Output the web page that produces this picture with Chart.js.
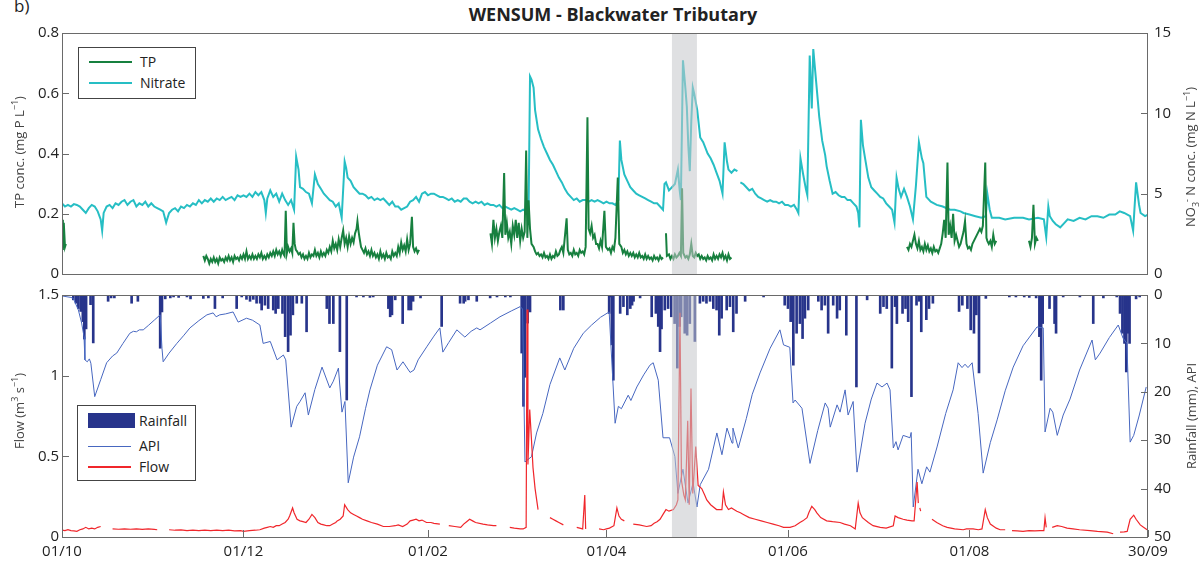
<!DOCTYPE html>
<html>
<head>
<meta charset="utf-8">
<title>WENSUM - Blackwater Tributary</title>
<script src="https://cdn.jsdelivr.net/npm/chart.js@4.4.1/dist/chart.umd.min.js"></script>
<style>
  html, body { margin: 0; padding: 0; background: #fff; }
  body { width: 1203px; height: 566px; position: relative; overflow: hidden; font-family: 'Open Sans', sans-serif; color: #222; }
  canvas { position: absolute; left: 0; }
  #top-chart { top: 0; }
  #bottom-chart { top: 280px; }
  .panel-tag { position: absolute; left: 14px; top: -6px; font-size: 17px; }
  .title { position: absolute; left: 0; width: 1226px; top: 2px; text-align: center; font-weight: 700; font-size: 18px; }
  .ytitle { position: absolute; font-size: 13px; color: #444; white-space: nowrap; transform: translate(-50%, -50%) rotate(-90deg); }
  .ytitle sup, .ytitle sub { font-size: 9px; }
  .legend { position: absolute; border: 1px solid #444; background: #fff; font-size: 14px; }
  .legend .sw { position: absolute; left: 10px; }
  .legend .lbl { position: absolute; left: 61px; line-height: 20px; transform: translateY(-50%); }
</style>
</head>
<body>
<div class="panel-tag">b)</div>
<div class="title">WENSUM - Blackwater Tributary</div>
<canvas id="top-chart" width="1203" height="290"></canvas>
<canvas id="bottom-chart" width="1203" height="286"></canvas>
<div class="ytitle" style="left:18px;top:152px">TP conc. (mg P L<sup>−1</sup>)</div>
<div class="ytitle" style="left:1191px;top:157px">NO<sub>3</sub><sup>-</sup> N conc. (mg N L<sup>−1</sup>)</div>
<div class="ytitle" style="left:18px;top:411px">Flow (m<sup>3</sup> s<sup>−1</sup>)</div>
<div class="ytitle" style="left:1191px;top:416px">Rainfall (mm), API</div>
<div class="legend" id="legend-top" style="left:78px;top:47px;width:116px;height:50px"></div>
<div class="legend" id="legend-bottom" style="left:77px;top:405px;width:117px;height:74px"></div>
<script>
'use strict';

// x values are days since 01/10 (leap year, so 30/09 is day 365)
const tickDays = [0, 61, 123, 183, 244, 305, 365];
const tickLabels = ['01/10', '01/12', '01/02', '01/04', '01/06', '01/08', '30/09'];
const stormWindow = [205, 213.4];

// TP (mg P/L), gaps marked with null
const tpSeries = [
  [0,0.18],[0.3,0.08],[0.6,0.17],[1,0.09],[1.3,0.1],[1.5,null],
  [47.5,0.06],[48,0.045],[48.5,0.06],[49,0.05],[49.5,0.035],[50,0.05],[50.5,0.04],[51,0.055],[51.5,0.04],[52,0.05],[52.5,0.035],
  [53,0.055],[53.5,0.045],[54,0.05],[54.5,0.04],[55,0.055],[55.5,0.045],[56,0.06],[56.5,0.045],[57,0.055],[57.5,0.04],[58,0.06],
  [58.5,0.05],[59,0.055],[59.5,0.045],[60,0.06],[60.5,0.05],[61,0.065],[61.5,0.05],[62,0.075],[62.5,0.05],[63,0.06],[63.5,0.05],
  [64,0.065],[64.5,0.05],[65,0.06],[65.5,0.05],[66,0.065],[66.5,0.055],[67,0.07],[67.5,0.05],[68,0.06],[68.5,0.05],[69,0.065],
  [69.5,0.055],[70,0.07],[70.5,0.06],[71,0.075],[71.5,0.06],[72,0.08],[72.5,0.065],[73,0.075],[73.5,0.06],[74,0.08],[74.5,0.065],
  [74.8,0.06],[75.2,0.21],[75.6,0.07],[76,0.09],[76.5,0.075],[77,0.085],[77.4,0.07],[77.8,0.17],[78.2,0.1],[78.6,0.08],[79,0.075],
  [79.5,0.065],[80,0.07],[80.5,0.055],[81,0.065],[81.5,0.05],[82,0.06],[82.5,0.05],[83,0.07],[83.5,0.055],[84,0.065],[84.5,0.06],
  [85,0.08],[85.5,0.06],[86,0.07],[86.5,0.055],[87,0.075],[87.5,0.06],[88,0.07],[88.5,0.06],[89,0.08],[89.5,0.07],[90,0.09],
  [90.5,0.075],[91,0.11],[91.5,0.085],[92,0.1],[92.5,0.08],[93,0.115],[93.5,0.09],[94,0.12],[94.5,0.145],[95,0.1],[95.5,0.12],
  [96,0.09],[96.5,0.125],[97,0.1],[97.5,0.12],[98,0.105],[98.5,0.135],[99,0.15],[99.3,0.175],[99.7,0.14],[100,0.12],[100.5,0.09],
  [101,0.08],[101.5,0.07],[102,0.085],[102.5,0.065],[103,0.075],[103.5,0.06],[104,0.08],[104.5,0.06],[105,0.07],[105.5,0.055],
  [106,0.065],[106.5,0.05],[107,0.075],[107.5,0.055],[108,0.065],[108.5,0.05],[109,0.07],[109.5,0.055],[110,0.06],[110.5,0.05],
  [111,0.075],[111.5,0.06],[112,0.07],[112.5,0.06],[113,0.09],[113.5,0.07],[114,0.105],[114.5,0.08],[115,0.095],[115.5,0.075],
  [116,0.115],[116.5,0.08],[117,0.1],[117.6,0.19],[118,0.09],[118.5,0.075],[119,0.085],[119.5,0.07],[120,0.08],[120.3,null],
  [144,0.135],[144.5,0.1],[145,0.18],[145.5,0.12],[146,0.15],[146.5,0.11],[147,0.14],[147.5,0.16],[148,0.12],[148.6,0.335],[149,0.13],
  [149.5,0.17],[150,0.12],[150.5,0.14],[151,0.1],[151.5,0.16],[152,0.13],[152.5,0.18],[153,0.12],[153.5,0.17],[154,0.11],[154.5,0.15],
  [155,0.12],[155.5,0.14],[156,0.41],[156.4,0.12],[156.8,0.245],[157.3,0.15],[157.8,0.1],[158.5,0.09],[159,0.075],[159.5,0.065],
  [160,0.07],[160.5,0.06],[161,0.065],[161.5,0.055],[162,0.07],[162.5,0.055],[163,0.06],[163.5,0.05],[164,0.065],[164.5,0.05],
  [165,0.06],[165.5,0.055],[166,0.075],[166.5,0.06],[167,0.065],[167.5,0.08],[168,0.09],[168.5,0.07],[169.6,0.185],[170,0.08],
  [170.5,0.065],[171,0.07],[171.5,0.06],[172,0.08],[172.5,0.065],[173,0.07],[173.5,0.06],[174,0.08],[174.5,0.07],[175,0.075],
  [175.5,0.065],[176,0.09],[176.6,0.52],[177,0.15],[177.5,0.135],[178,0.16],[178.5,0.12],[179,0.13],[179.5,0.1],[180,0.1],
  [180.5,0.085],[181,0.11],[181.5,0.09],[182.3,0.21],[182.8,0.09],[183.5,0.08],[184,0.085],[184.5,0.07],[185,0.09],[185.5,0.08],
  [186,0.12],[186.8,0.32],[187.3,0.1],[188,0.09],[188.5,0.07],[189,0.08],[189.5,0.065],[190,0.075],[190.5,0.06],[191,0.07],
  [191.5,0.06],[192,0.07],[192.5,0.055],[193,0.065],[193.5,0.055],[194,0.07],[194.5,0.055],[195,0.06],[195.5,0.05],[196,0.065],
  [196.5,0.05],[197,0.06],[197.5,0.05],[198,0.055],[198.5,0.045],[199,0.06],[199.5,0.05],[200,0.055],[200.5,0.045],[201,0.06],
  [201.5,0.05],[202,0.055],[202.5,null],
  [203,0.135],[203.3,0.06],[204,0.065],[204.5,0.05],[205,0.06],[205.5,0.05],[206,0.065],[206.5,0.055],[207,0.06],[207.5,0.07],
  [208,0.06],[208.4,0.285],[208.8,0.07],[209.5,0.055],[210,0.06],[210.5,0.05],[211,0.065],[211.5,0.1],[212,0.06],[212.5,0.055],
  [213,0.07],[213.5,0.06],[214,0.065],[214.5,0.05],[215,0.06],[215.5,0.05],[216,0.055],[216.5,0.045],[217,0.06],[217.5,0.05],
  [218,0.055],[218.5,0.045],[219,0.065],[219.5,0.05],[220,0.06],[220.5,0.05],[221,0.065],[221.5,0.055],[222,0.07],[222.5,0.05],
  [223,0.06],[223.5,0.045],[224,0.065],[224.5,0.05],[225,0.055],[225.5,null],
  [284,0.09],[284.5,0.08],[285,0.1],[285.5,0.09],[286,0.11],[286.5,0.13],[287,0.1],[287.5,0.085],[288,0.11],[288.5,0.08],[289,0.09],
  [289.5,0.075],[290,0.1],[290.5,0.08],[291,0.095],[291.5,0.075],[292,0.085],[292.5,0.07],[293,0.09],[293.5,0.075],[294,0.08],
  [294.5,0.07],[295,0.085],[295.5,0.1],[296,0.135],[296.5,0.18],[297,0.12],[297.6,0.37],[298,0.13],[298.5,0.16],[299,0.12],
  [299.5,0.2],[300,0.11],[300.5,0.13],[301,0.11],[301.5,0.09],[302,0.1],[302.5,0.12],[303,0.14],[303.5,0.175],[304,0.1],
  [304.5,0.085],[305,0.09],[305.5,0.08],[306,0.1],[306.5,0.11],[307,0.12],[307.5,0.13],[308,0.14],[308.5,0.15],[309,0.14],
  [309.5,0.16],[310.3,0.37],[310.7,0.12],[311,0.11],[311.5,0.1],[312,0.11],[312.5,0.09],[313,0.13],[313.5,0.1],[314,0.11],[314.5,null],
  [325,0.11],[325.5,0.09],[326,0.12],[326.5,0.23],[327,0.1],[327.5,0.12],[328,0.11]
];

// nitrate NO3-N (mg N/L)
const nitrateSeries = [
  [0,4.4],[1,4.2],[2,4.3],[3,4.2],[4,4.35],[5,4.3],[6,4.2],[7,4.0],[8,3.8],[9,4.1],[10,4.3],[11,4.2],[12,3.9],[13,3.4],[13.5,2.7],
  [14,3.8],[15,4.2],[16,4.3],[17,4.1],[18,4.4],[19,4.3],[20,4.5],[21,4.6],[22,4.3],[23,4.5],[24,4.6],[25,4.2],[26,4.4],[27,4.3],
  [28,4.5],[29,4.2],[30,4.4],[31,4.2],[32,4.1],[33,4.0],[34,3.9],[35,3.2],[35.5,3.5],[36,3.8],[37,4.0],[38,4.1],[39,3.9],[40,4.2],
  [41,4.1],[42,4.3],[43,4.2],[44,4.4],[45,4.3],[46,4.6],[47,4.4],[48,4.6],[49,4.5],[50,4.7],[51,4.5],[52,4.7],[53,4.6],[54,4.8],
  [55,4.6],[56,4.7],[57,4.8],[58,4.6],[59,4.9],[60,4.8],[61,4.9],[62,4.8],[63,5.0],[64,4.8],[65,5.1],[66,4.9],[67,5.1],[68,4.6],
  [68.5,3.8],[69,4.7],[70,5.2],[71,4.8],[72,5.0],[73,4.5],[74,5.0],[75,4.6],[76,4.3],[77,4.6],[78,4.0],[78.7,7.3],[79.5,6.5],[80,5.4],
  [81,5.3],[82,5.1],[83,5.0],[84,4.4],[85,6.2],[86,5.6],[87,5.3],[88,5.0],[89,4.8],[90,4.6],[91,4.5],[92,4.2],[93,4.4],[94,3.5],
  [95,7.0],[95.5,6.6],[96,6.0],[97,5.8],[98,5.4],[99,5.2],[100,5.0],[101,5.0],[102,4.9],[103,4.7],[104,4.8],[105,4.6],[106,4.7],
  [107,4.6],[108,4.7],[109,4.5],[110,4.3],[111,4.5],[112,4.2],[113,4.2],[114,4.0],[115,4.1],[116,4.2],[117,4.5],[118,4.6],[119,4.8],
  [120,4.5],[121,5.0],[122,5.1],[123,4.9],[124,5.0],[125,5.0],[126,4.9],[127,4.8],[128,4.8],[129,4.7],[130,4.6],[131,4.7],[132,4.5],
  [133,4.6],[134,4.5],[135,4.7],[136,4.7],[137,4.5],[138,4.4],[139,4.5],[140,4.4],[141,4.5],[142,4.3],[143,4.4],[144,4.3],[145,4.3],
  [146,4.2],[147,4.3],[148,4.1],[149,4.2],[150,4.1],[151,4.0],[152,4.1],[153,4.0],[154,3.9],[155,4.0],[156,3.9],[156.8,3.6],
  [157.3,12.3],[157.8,12.1],[158.5,11.6],[159,10.2],[160,9.0],[161,8.4],[162,7.9],[163,7.5],[164,7.1],[165,6.8],[166,6.4],[167,6.0],
  [168,5.7],[169,5.3],[170,5.0],[171,4.8],[172,4.6],[173,4.7],[174,4.5],[175,4.6],[176,4.6],[177,4.5],[178,4.6],[179,4.5],[180,4.6],
  [181,4.5],[182,4.4],[183,4.5],[184,4.4],[185,4.4],[186,4.3],[187,4.6],[187.5,8.3],[188,7.1],[189,6.2],[190,5.8],[191,5.4],[192,5.2],
  [193,5.0],[194,4.9],[195,4.8],[196,4.7],[197,4.6],[198,4.5],[199,4.4],[200,4.4],[201,4.2],[202,4.0],[202.5,5.6],[203,5.7],[204,5.2],
  [205,5.4],[206,5.6],[207,6.5],[207.6,5.2],[208,4.6],[208.7,13.3],[209.5,11.6],[210,10.4],[210.5,8.0],[211,6.4],[211.5,9.5],[212,11.6],
  [212.5,11.2],[213.5,10.2],[214.5,8.5],[215.5,8.2],[217,7.5],[218,7.2],[219,6.8],[220,6.3],[221,5.8],[222,5.0],[222.7,8.2],[223.5,7.0],
  [224,6.5],[225,6.3],[226,6.5],[227,6.4],[227.4,null],[228,5.7],[229,5.6],[230,5.4],[231,5.2],[232,5.3],[233,5.0],[234,4.8],[235,4.7],
  [236,4.6],[237,4.5],[238,4.6],[239,4.5],[240,4.5],[241,4.4],[242,4.5],[243,4.3],[244,4.3],[245,4.2],[246,4.3],[247,4.0],[247.5,3.8],
  [248.2,7.2],[249,6.3],[250,5.3],[250.5,4.9],[251.3,13.6],[252,10.3],[252.5,14.0],[253.5,11.9],[254.5,9.8],[255.5,8.3],[256.5,7.4],
  [257,6.7],[258,5.8],[259,5.0],[260,5.1],[261,4.9],[262,4.8],[263,4.8],[264,4.6],[265,4.6],[266,4.4],[267,4.2],[267.6,3.8],[268,2.9],
  [268.5,9.6],[269.2,8.0],[270,7.1],[271,6.0],[272,5.4],[273,5.2],[274,5.0],[275,4.8],[276,4.7],[277,4.4],[278,4.2],[279,4.0],
  [279.8,3.2],[280.5,6.0],[281.2,5.3],[282,4.8],[283,5.3],[284,4.8],[285,4.2],[286,3.4],[287,5.5],[288,8.2],[289,7.2],[289.5,6.9],
  [290.5,4.8],[292,4.5],[294,4.3],[296,4.2],[298.5,4.0],[300,4.0],[302,3.9],[303,3.8],[305,3.7],[307,3.6],[309,3.5],[310.5,3.6],
  [311,5.0],[311.8,4.0],[312.5,3.5],[315,3.5],[317,3.4],[320,3.5],[323,3.5],[325,3.4],[328,3.5],[330,3.4],[330.8,2.3],[331.5,4.2],
  [332,3.6],[333,3.3],[334,3.1],[335.5,2.9],[337,3.2],[338,3.4],[340,3.3],[342,3.5],[344,3.4],[346,3.6],[348,3.6],[350,3.5],[352,3.7],
  [354,3.7],[355.5,3.9],[357,3.8],[359,3.6],[360,2.7],[361,5.7],[362,4.3],[362.5,3.8],[364,3.6],[365,3.7]
];

// flow (m3/s), gaps marked with null
const flowSeries = [
  [0,0.043],[1,0.04],[2,0.045],[3,0.04],[4,0.038],[5,0.035],[6,0.045],[7,0.05],[8,0.06],[9,0.05],[10,0.055],[11,0.05],[12,0.06],[13,0.065],[13.5,null],
  [17,0.05],[19,0.048],[21,0.05],[23,0.048],[25,0.05],[27,0.047],[29,0.05],[31,0.047],[32,0.045],[32.5,null],
  [36,0.045],[38,0.042],[40,0.044],[42,0.04],[44,0.042],[46,0.04],[48,0.043],[50,0.04],[52,0.042],[54,0.04],[56,0.043],[58,0.038],
  [60,0.04],[61,0.035],[63,0.04],[65,0.042],[66.5,0.045],[68,0.055],[69,0.06],[70,0.065],[71,0.06],[72,0.07],[73,0.07],[74,0.08],
  [75,0.09],[76,0.11],[76.5,0.13],[77.5,0.18],[78,0.15],[79,0.11],[80,0.1],[81,0.095],[82,0.09],[83,0.11],[84,0.14],[85,0.12],
  [86,0.09],[87,0.08],[88,0.075],[89,0.07],[90,0.07],[91,0.08],[92,0.09],[92.5,0.1],[93.5,0.11],[94.5,0.13],[95,0.2],[96,0.17],
  [97,0.15],[98,0.14],[99,0.13],[100,0.12],[101,0.11],[102.5,0.1],[104,0.09],[106,0.08],[108,0.065],[110,0.065],[112,0.07],[113,0.075],
  [114.5,0.065],[116,0.08],[117,0.1],[118,0.105],[119,0.11],[120,0.1],[121,0.105],[122.5,0.09],[124,0.09],[125,0.085],[127,0.08],[128,null],
  [130,0.07],[132,0.065],[134,0.06],[135,0.08],[136,0.095],[137,0.11],[138,0.1],[139,0.09],[141.5,0.08],[143,0.075],[145,0.07],[146,0.07],[146.5,null],
  [150.5,0.06],[152,0.055],[154,0.05],[155,0.05],[156,0.06],[156.3,1.41],[156.6,0.45],[157.2,0.79],[157.8,0.6],[158.3,0.43],[159,0.3],[160,0.17],[160.3,null],
  [164,0.12],[165,0.11],[166,0.1],[167,0.09],[168.5,0.075],[169,null],
  [173,0.06],[175,0.05],[175.7,0.26],[176,0.05],[176.5,null],
  [180.5,0.05],[182,0.045],[183,0.05],[184,0.055],[185.5,0.07],[186.5,0.18],[187.2,0.13],[188,0.11],[189,0.1],[189.5,null],
  [192,0.08],[194,0.075],[196.5,0.065],[198,0.07],[199,0.085],[200,0.095],[201,0.11],[202,0.14],[203,0.17],[204,0.16],[205.5,0.17],
  [206.5,0.2],[207,0.23],[207.7,1.39],[208.2,0.35],[209,0.26],[209.5,0.23],[210.3,0.72],[210.8,0.2],[211.4,0.92],[212,0.27],[213,0.56],
  [213.8,0.32],[215,0.3],[216,0.26],[216.7,0.23],[218,0.2],[220,0.17],[221.8,0.17],[222.3,0.28],[223,0.2],[224,0.17],[225,0.18],
  [226.8,0.16],[228,0.15],[229,0.14],[231,0.12],[233,0.11],[235,0.1],[237,0.09],[239,0.08],[241,0.07],[242.5,0.06],[244.7,0.06],
  [246.4,0.07],[248,0.09],[249,0.1],[250.4,0.12],[251,0.15],[252,0.19],[253,0.17],[253.7,0.15],[255,0.12],[257,0.1],[259,0.095],
  [261.5,0.09],[263,0.08],[265,0.07],[266.6,0.05],[267.6,0.21],[268.2,0.15],[269,0.12],[271,0.09],[272.6,0.07],[275,0.06],[277,0.055],
  [279.4,0.07],[280,0.13],[281,0.12],[282.7,0.11],[284,0.105],[285.7,0.1],[286.4,0.1],[287.4,0.34],[287.8,0.21],[288,null],
  [288.3,0.18],[288.6,0.16],[288.8,null],
  [292.4,0.11],[294,0.09],[296,0.07],[297.5,0.06],[300,0.05],[302.9,0.045],[304,0.05],[306.2,0.05],[308,0.045],[309.2,0.05],
  [310.3,0.17],[311,0.12],[312,0.08],[314,0.055],[315.3,0.045],[317,0.045],[317.5,null],
  [319.3,0.04],[321,0.038],[323,0.035],[325,0.04],[327,0.038],[328.7,0.04],[330,0.04],[330.4,0.12],[330.8,0.06],[331,null],
  [332.8,0.06],[334.5,0.07],[336,0.065],[337.8,0.055],[339.8,0.05],[342,0.045],[345.5,0.04],[348,0.035],[351.3,0.03],[353.3,0.02],[353.8,null],
  [355.6,0.03],[357,0.032],[358,0.035],[359,0.11],[360.2,0.135],[361,0.11],[362.4,0.075],[363.5,0.06],[364.7,0.045]
];

// antecedent precipitation index (right axis, reversed)
const apiSeries = [
  [0,0.2],[3,0.5],[3.8,0.7],[5.5,3.1],[6.6,5.8],[7.4,8.6],[7.7,13.4],[8.5,13.8],[9.2,13.2],[9.7,14.1],[11,21],[13,17.5],[15,14],
  [17,12.6],[18.4,12],[20.5,10],[22.8,7.9],[24,7.5],[25,7.6],[26,7.2],[27.3,7.2],[29,6.3],[31,5.2],[33,4.1],[33.6,11],[34,13.8],
  [36,12],[38.6,10],[41,8.3],[43,6.8],[46,5.3],[48.7,4.1],[50.8,3.7],[51.8,4.5],[53,4.1],[55,3.9],[57.5,3.5],[59.2,5.6],[62,4.8],
  [64,5.2],[66.5,6.2],[67.6,10],[70,9.6],[72.3,13.4],[74.4,12.4],[75.2,13.4],[77,27.3],[78.9,23],[80,22],[81.7,20.2],[82.8,24.8],
  [85,19.5],[87.4,14.9],[90,19.2],[91.2,17.8],[92.9,15.1],[94.1,24.2],[95.1,22],[96.2,38.8],[98,33.5],[100,29.3],[102,23.5],
  [103.5,19.6],[106,14.5],[109.1,10.7],[110.8,11.3],[112.6,15.5],[114.6,13.8],[117,16],[118.3,15.5],[119.7,13.4],[122.6,10.7],
  [125,8.5],[127,6.8],[128,11.8],[130,9.8],[132.7,7.2],[135.4,8.7],[137.5,7.5],[139.4,6.8],[140.5,7.2],[144,5.8],[147.2,4.5],
  [151,3.3],[154,2.4],[154.8,2.9],[155.6,34.5],[157.8,33.4],[159.5,28.5],[161.6,24.5],[164,18.5],[167.3,13],[169,15.5],[172,11],
  [175.2,7.9],[178,6.2],[181,4.6],[183.9,3.5],[185.9,26.5],[187,23],[188,23.5],[190.3,20.7],[191.2,21.8],[193.2,19],[195.5,16.5],
  [197.6,14.5],[198.7,14],[200.4,17.6],[202,29.5],[204.2,29.5],[206,33.4],[207,41],[208.7,36],[210.4,43],[212.1,38.8],[213.4,43.8],
  [214.5,39.2],[217.3,36],[220.1,28.5],[221.8,33],[223.5,27.5],[225.2,30.6],[225.5,27.5],[227.3,31.6],[230,25.5],[232,20.5],
  [234.6,16.1],[238,11],[241.3,7.2],[242.5,10.3],[244.6,10.8],[245.7,22.3],[246.4,21.7],[248.7,23.4],[251.4,34.8],[254,28],
  [256.5,22.3],[257.5,23.4],[258.2,27.3],[260.5,22.7],[261.5,24.2],[263.2,19.6],[264.2,24.8],[265.9,22],[267.2,36.6],[269.9,26.5],
  [272,21.5],[273.9,18.2],[275.6,19],[277.3,18.2],[278.3,19.6],[279.4,31.6],[280.3,30.3],[281,32],[282.7,29],[285,29.5],[285.4,28.4],
  [286.1,43.8],[287.7,36],[289,39],[290.6,35.5],[291.7,36.6],[294.1,31.4],[297,24.5],[299.5,19.6],[301.2,14],[302.5,15],[303.5,14.3],
  [304.5,15],[305.9,14],[307.9,24.5],[309.6,36.8],[312,30.5],[314.3,25.8],[317,19.8],[319.7,14.9],[323,10.5],[327.7,6.6],[329.8,6.8],
  [330.4,28.3],[332.1,23.4],[333,24.2],[334.5,29],[336.5,24.8],[338.8,21.5],[342,15.5],[346.2,9.3],[347.3,13.4],[348.9,12],[352,8.8],
  [355,6.2],[356.6,8.9],[357.9,10],[359,30.4],[360.2,29],[362,25],[364.4,19]
];

// rainfall (mm), right axis reversed
const rainSeries = [
  [3.8,1.0],[4.7,1.7],[5.5,2.8],[6.3,3.4],[7,5.5],[7.5,9.1],[8.1,7],[9.6,2],[10.5,9.9],[15.5,1.3],[16.5,0.6],[17.6,0.6],[23.4,1.7],
  [25.5,1.3],[33,11],[33.6,3.5],[34.7,0.8],[36.4,0.6],[37.5,0.4],[39.2,0.5],[42,0.4],[43.2,0.8],[47.5,0.7],[49.2,0.6],[51.4,2.8],
  [54,0.6],[58.7,2.8],[60.4,0.4],[62,0.9],[63.2,1.3],[64.3,0.9],[65.4,1.7],[66.6,1.7],[67.1,3.1],[68.2,2.1],[69.3,2.8],[71,3.1],
  [71.8,3.8],[72.7,2.8],[74.1,3.8],[75,8.6],[76,11.7],[76.8,8.3],[77.6,4.1],[78.9,1.7],[80.6,1.7],[82.2,7.6],[89,2.8],[89.9,5.9],
  [91.2,5.9],[93.4,11.7],[95.7,21.7],[99,0.4],[101.3,0.4],[103.5,0.5],[104.6,0.4],[109.7,2.8],[110.3,4.5],[110.9,4.1],[112,1.0],
  [114.5,5.9],[116.5,3.1],[117.3,3.1],[118,1.3],[120.5,0.6],[127.6,6.5],[133.8,1.7],[135,1.7],[135.5,1.3],[136.6,1.0],[139.4,1.3],
  [143.9,0.6],[146.2,0.4],[149,0.4],[150.7,0.4],[154.5,12],[155.1,23],[155.6,17],[156.5,5.8],[157.3,3.5],[167.5,3.1],[168.5,3.1],
  [183.9,3.8],[184.2,0.4],[184.8,10.3],[185.3,17.6],[187.6,3.8],[188.7,2.4],[190,4.1],[191,2.8],[191.6,2.1],[192.1,1.3],[194.3,0.6],
  [198.2,4.5],[199.6,3.8],[200.4,6.5],[201,11.7],[201.5,7.0],[202.6,3.1],[203.7,2.8],[204.8,4.5],[205.9,5.9],[206.8,15.1],[207.6,6.5],
  [208.1,4.5],[209.3,7.9],[210.1,8.3],[211,5.9],[212.7,9.6],[214.4,1.7],[215.5,1.3],[216.6,1.7],[217.8,1.3],[218.9,2.8],[220,3.1],
  [220.9,8.3],[221.7,4.8],[223.4,3.1],[224.5,2.4],[225.6,7.6],[226.7,3.8],[229.6,1.3],[235.8,0.4],[242.9,2.1],[244,2.8],[244.9,5.5],
  [245.8,14.5],[246.9,7.9],[248,5.9],[248.9,9],[249.7,4.8],[250.8,3.1],[254.2,1.3],[255.3,3.1],[256.4,2.1],[257.5,7.9],[259.2,2.1],
  [260.5,4.8],[261.4,3.1],[263.6,8.3],[267,19],[270.6,1.0],[275,3.8],[276.1,2.4],[277.2,2.8],[278.9,15.1],[280,2.4],[280.6,5.9],
  [282.5,3.8],[283.5,2.8],[284.4,5.5],[285.5,21],[287.2,2.1],[288.1,1.3],[288.8,7.6],[290.5,5.1],[291.4,2.8],[292.7,1.7],[301.5,3.4],
  [302.6,2.1],[304.3,2.8],[305.4,7.2],[306.5,7.9],[307.3,4.1],[308.2,16.1],[310.5,0.7],[318.4,0.4],[320.6,0.4],[323.4,0.4],[325.1,0.5],
  [327.4,0.6],[328.5,8.6],[329.1,17.6],[329.6,5.9],[331.9,2.8],[333.6,5.9],[334.1,7.9],[336.5,0.4],[342.1,0.4],[346.6,5.9],[350,0.6],
  [354.5,0.4],[355.6,3.8],[356.4,7.9],[357.1,10],[357.7,15.9],[358.2,7.9],[358.8,10],[361,0.8],[362.2,0.4]
];

const COLORS = {
  tp: '#17803f',
  nitrate: '#26bec4',
  rain: '#27348b',
  api: '#4767c0',
  flow: '#f0262b',
  frame: '#6a6a6a',
  shade: 'rgba(196,198,202,0.55)',
};

Chart.defaults.font.family = "'Open Sans', sans-serif";
Chart.defaults.font.size = 15;
Chart.defaults.color = '#222';

const toPoints = (rows) => rows.map(([x, y]) => ({ x, y }));

// grey storm window, box frame and inward ticks like the original figure
const panelPlugin = {
  id: 'panel',
  afterDatasetsDraw(chart) {
    const { ctx, chartArea: a, scales } = chart;
    const x0 = scales.x.getPixelForValue(stormWindow[0]);
    const x1 = scales.x.getPixelForValue(stormWindow[1]);
    ctx.save();
    ctx.fillStyle = COLORS.shade;
    ctx.fillRect(x0, a.top, x1 - x0, a.bottom - a.top);
    ctx.restore();
  },
  afterDraw(chart) {
    const { ctx, chartArea: a } = chart;
    ctx.save();
    ctx.strokeStyle = COLORS.frame;
    ctx.lineWidth = 1;
    ctx.strokeRect(a.left + 0.5, a.top + 0.5, a.right - a.left - 1, a.bottom - a.top);
    ctx.beginPath();
    Object.values(chart.scales).forEach((s) => {
      if (!s.options.display) return;
      s.ticks.forEach((t) => {
        const p = Math.round(s.getPixelForValue(t.value)) + 0.5;
        if (s.position === 'left') { ctx.moveTo(a.left, p); ctx.lineTo(a.left + 7, p); }
        else if (s.position === 'right') { ctx.moveTo(a.right, p); ctx.lineTo(a.right - 7, p); }
        else if (s.position === 'bottom') { ctx.moveTo(p, a.bottom); ctx.lineTo(p, a.bottom - 7); }
      });
    });
    ctx.stroke();
    ctx.restore();
  },
};

function sideAxis(position, min, max, step, reverse) {
  return {
    position, min, max, reverse: !!reverse,
    grid: { display: false, drawTicks: false },
    border: { display: false },
    ticks: { stepSize: step, padding: position === 'left' ? 3 : 6, callback: (v) => +v.toFixed(2) },
    afterFit: (s) => { s.width = position === 'left' ? 62 : 55; },
  };
}

const baseOptions = {
  responsive: false,
  animation: false,
  events: [],
  elements: { point: { radius: 0 }, line: { tension: 0 } },
  plugins: { legend: { display: false }, tooltip: { enabled: false } },
};

const topChart = new Chart(document.getElementById('top-chart'), {
  type: 'line',
  data: {
    datasets: [
      { label: 'TP', data: toPoints(tpSeries), yAxisID: 'y', borderColor: COLORS.tp, borderWidth: 2 },
      { label: 'Nitrate', data: toPoints(nitrateSeries), yAxisID: 'yR', borderColor: COLORS.nitrate, borderWidth: 2 },
    ],
  },
  options: {
    ...baseOptions,
    layout: { padding: { top: 33, bottom: 16, left: 0, right: 0 } },
    scales: {
      x: { type: 'linear', min: 0, max: 365, display: false },
      y: sideAxis('left', 0, 0.8, 0.2),
      yR: sideAxis('right', 0, 15, 5),
    },
  },
  plugins: [panelPlugin],
});

const bottomChart = new Chart(document.getElementById('bottom-chart'), {
  type: 'line',
  data: {
    datasets: [
      { label: 'Flow', data: toPoints(flowSeries), yAxisID: 'y', borderColor: COLORS.flow, borderWidth: 1.2 },
      { label: 'API', data: toPoints(apiSeries), yAxisID: 'yR', borderColor: COLORS.api, borderWidth: 1 },
      { type: 'bar', label: 'Rainfall', data: toPoints(rainSeries), yAxisID: 'yR', backgroundColor: COLORS.rain,
        borderWidth: 0, barThickness: 2, grouped: false },
    ],
  },
  options: {
    ...baseOptions,
    layout: { padding: { top: 15, bottom: 0, left: 0, right: 0 } },
    scales: {
      x: {
        type: 'linear', min: 0, max: 365, offset: false, position: 'bottom',
        grid: { display: false, drawTicks: false },
        border: { display: false },
        afterBuildTicks: (s) => { s.ticks = tickDays.map((value) => ({ value })); },
        ticks: { autoSkip: false, maxRotation: 0, padding: 6, callback: (v, i) => tickLabels[i] },
        afterFit: (s) => { s.height = 29; },
      },
      y: sideAxis('left', 0, 1.5, 0.5),
      yR: sideAxis('right', 0, 50, 10, true),
    },
  },
  plugins: [panelPlugin],
});

function buildLegend(boxId, chart, order, rows) {
  const box = document.getElementById(boxId);
  order.forEach((label, i) => {
    const ds = chart.data.datasets.find((d) => d.label === label);
    const sw = document.createElement('div');
    sw.className = 'sw';
    if (ds.type === 'bar') {
      Object.assign(sw.style, { top: (rows[i] - 8) + 'px', width: '47px', height: '15px', background: ds.backgroundColor });
    } else {
      Object.assign(sw.style, { top: (rows[i] - ds.borderWidth / 2) + 'px', width: '43px',
        height: ds.borderWidth + 'px', background: ds.borderColor });
    }
    const txt = document.createElement('div');
    txt.className = 'lbl';
    txt.style.top = rows[i] + 'px';
    txt.textContent = ds.label;
    box.appendChild(sw);
    box.appendChild(txt);
  });
}

buildLegend('legend-top', topChart, ['TP', 'Nitrate'], [14, 35]);
buildLegend('legend-bottom', bottomChart, ['Rainfall', 'API', 'Flow'], [15, 40, 61]);
</script>
</body>
</html>
